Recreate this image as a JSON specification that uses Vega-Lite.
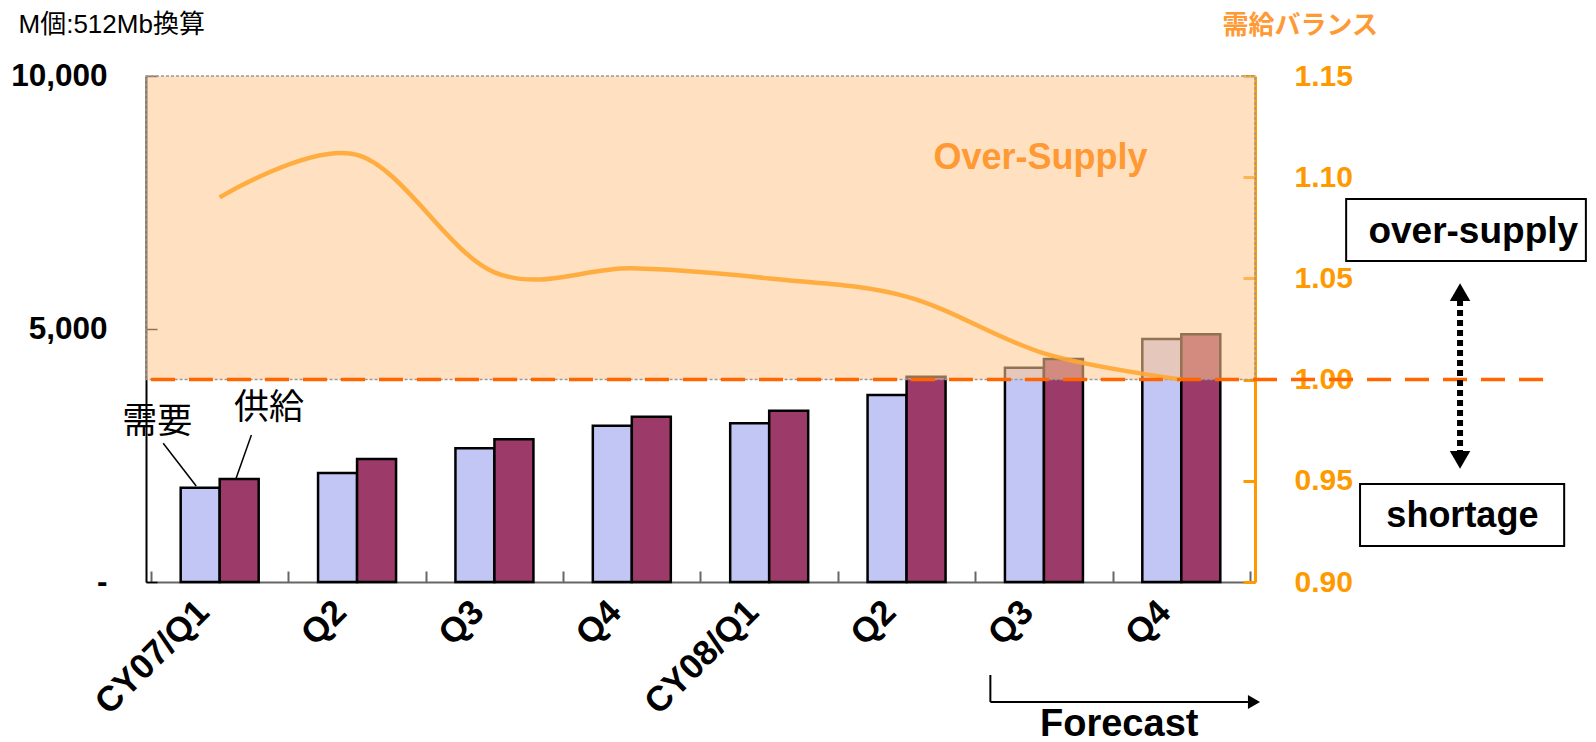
{
  "$schema": "https://vega.github.io/schema/vega-lite/v6.json",
  "width": 1109,
  "height": 506,
  "autosize": {"type": "none"},
  "padding": {"left": 146, "top": 76, "right": 341, "bottom": 160},
  "background": "white",
  "config": {"view": {"stroke": null}, "font": "Liberation Sans"},
  "data": {"values": [{}]},
  "datasets": {
    "bars": [
      {"idx": 1, "quarter": "CY07/Q1", "series": "需要", "value": 1864},
      {"idx": 1, "quarter": "CY07/Q1", "series": "供給", "value": 2035},
      {"idx": 2, "quarter": "CY07/Q2", "series": "需要", "value": 2154},
      {"idx": 2, "quarter": "CY07/Q2", "series": "供給", "value": 2430},
      {"idx": 3, "quarter": "CY07/Q3", "series": "需要", "value": 2642},
      {"idx": 3, "quarter": "CY07/Q3", "series": "供給", "value": 2820},
      {"idx": 4, "quarter": "CY07/Q4", "series": "需要", "value": 3089},
      {"idx": 4, "quarter": "CY07/Q4", "series": "供給", "value": 3267},
      {"idx": 5, "quarter": "CY08/Q1", "series": "需要", "value": 3136},
      {"idx": 5, "quarter": "CY08/Q1", "series": "供給", "value": 3386},
      {"idx": 6, "quarter": "CY08/Q2", "series": "需要", "value": 3696},
      {"idx": 6, "quarter": "CY08/Q2", "series": "供給", "value": 4058},
      {"idx": 7, "quarter": "CY08/Q3", "series": "需要", "value": 4236},
      {"idx": 7, "quarter": "CY08/Q3", "series": "供給", "value": 4407},
      {"idx": 8, "quarter": "CY08/Q4", "series": "需要", "value": 4802},
      {"idx": 8, "quarter": "CY08/Q4", "series": "供給", "value": 4895}
    ],
    "ratio": [
      {"idx": 1, "quarter": "CY07/Q1", "ratio": 1.090},
      {"idx": 2, "quarter": "CY07/Q2", "ratio": 1.111},
      {"idx": 3, "quarter": "CY07/Q3", "ratio": 1.053},
      {"idx": 4, "quarter": "CY07/Q4", "ratio": 1.055},
      {"idx": 5, "quarter": "CY08/Q1", "ratio": 1.050},
      {"idx": 6, "quarter": "CY08/Q2", "ratio": 1.041},
      {"idx": 7, "quarter": "CY08/Q3", "ratio": 1.013},
      {"idx": 8, "quarter": "CY08/Q4", "ratio": 1.000}
    ]
  },
  "layer": [
    {
      "data": {"name": "bars"},
      "mark": {"type": "bar", "stroke": "black", "strokeWidth": 2.5, "width": 39, "xOffset": {"expr": "datum.series === '需要' ? -19.5 : 19.5"}},
      "encoding": {
        "x": {
          "field": "idx", "type": "quantitative",
          "scale": {"domain": [0.5, 8.5], "nice": false, "zero": false},
          "axis": {
            "orient": "bottom", "title": null, "grid": false,
            "values": [0.5, 1, 1.5, 2, 2.5, 3, 3.5, 4, 4.5, 5, 5.5, 6, 6.5, 7, 7.5, 8, 8.5],
            "labelExpr": "datum.value % 1 === 0 ? ['CY07/Q1','Q2','Q3','Q4','CY08/Q1','Q2','Q3','Q4'][datum.value - 1] : ''",
            "labelAngle": -45, "labelAlign": "right", "labelBaseline": "middle",
            "labelFont": "Liberation Sans", "labelFontSize": 35, "labelFontWeight": "bold", "labelColor": "black",
            "labelPadding": 35, "labelOffset": -17, "labelOverlap": false, "labelLimit": 0, "labelFlush": false,
            "tickSize": -11, "tickColor": "#666", "tickWidth": 2,
            "tickOpacity": {"condition": {"test": "datum.value % 1 === 0", "value": 0}, "value": 1},
            "domainColor": "#666", "domainWidth": 2
          }
        },
        "y": {
          "field": "value", "type": "quantitative", "stack": null,
          "scale": {"domain": [0, 10000]},
          "axis": {
            "orient": "left", "values": [0, 5000, 10000], "grid": false,
            "labelExpr": "datum.value == 0 ? '-\u00a0\u00a0\u00a0\u00a0' : format(datum.value, ',')",
            "labelFont": "Liberation Sans", "labelFontSize": 31.5, "labelFontWeight": "bold", "labelColor": "black",
            "labelPadding": 50, "tickSize": -11, "tickColor": "black", "tickWidth": 1.5,
            "domainColor": "black", "domainWidth": 2,
            "title": "M個:512Mb換算", "titleAngle": 0, "titleX": -128, "titleY": -52,
            "titleAlign": "left", "titleBaseline": "middle",
            "titleFont": "Liberation Sans, Noto Sans CJK JP", "titleFontSize": 26, "titleFontWeight": "normal", "titleColor": "black"
          }
        },
        "color": {
          "field": "series", "type": "nominal",
          "scale": {"domain": ["需要", "供給"], "range": ["#c2c6f5", "#9c3a6a"]},
          "legend": null
        }
      }
    },
    {
      "layer": [
        {
          "mark": {"type": "rect", "fill": "#ffc890", "fillOpacity": 0.57, "stroke": "#999", "strokeWidth": 1.5, "strokeDash": [3, 2]},
          "encoding": {
            "y": {"datum": 1.0, "type": "quantitative", "scale": {"domain": [0.9, 1.15], "zero": false}},
            "y2": {"datum": 1.15}
          }
        },
        {
          "data": {"name": "ratio"},
          "mark": {"type": "line", "interpolate": "cardinal", "tension": 0, "stroke": "#ffa733", "strokeWidth": 4.5, "opacity": 0.9},
          "encoding": {
            "x": {"field": "idx", "type": "quantitative", "scale": {"domain": [0.5, 8.5], "nice": false, "zero": false}},
            "y": {
              "field": "ratio", "type": "quantitative",
              "scale": {"domain": [0.9, 1.15], "zero": false},
              "axis": {
                "orient": "right", "values": [0.9, 0.95, 1.0, 1.05, 1.1, 1.15], "format": ".2f", "grid": false,
                "labelFont": "Liberation Sans", "labelFontSize": 30, "labelFontWeight": "bold", "labelColor": "#ff9900",
                "labelPadding": 51, "tickSize": -12, "tickColor": "#ff9900", "tickWidth": 3,
                "domainColor": "#ff9900", "domainWidth": 3,
                "title": "需給バランス", "titleAngle": 0, "titleX": -33, "titleY": -51,
                "titleAlign": "left", "titleBaseline": "middle",
                "titleFont": "Noto Sans CJK JP", "titleFontSize": 26, "titleFontWeight": "bold", "titleColor": "#ff9933"
              }
            }
          }
        },
        {
          "mark": {"type": "rule", "color": "#ff6600", "strokeWidth": 3.5, "strokeDash": [24, 14]},
          "encoding": {
            "x": {"datum": 0.5, "type": "quantitative", "scale": {"domain": [0.5, 8.5], "nice": false, "zero": false}},
            "x2": {"datum": 10.72},
            "y": {"datum": 1.0, "type": "quantitative", "scale": {"domain": [0.9, 1.15], "zero": false}}
          }
        },
        {
          "mark": {"type": "rect", "fill": "white", "stroke": "black", "strokeWidth": 2},
          "encoding": {
            "x": {"datum": 9.200, "type": "quantitative", "scale": {"domain": [0.5, 8.5], "nice": false, "zero": false}},
            "x2": {"datum": 10.945},
            "y": {"datum": 1.0892, "type": "quantitative", "scale": {"domain": [0.9, 1.15], "zero": false}},
            "y2": {"datum": 1.0586}
          }
        },
        {
          "mark": {"type": "rect", "fill": "white", "stroke": "black", "strokeWidth": 2},
          "encoding": {
            "x": {"datum": 9.301, "type": "quantitative", "scale": {"domain": [0.5, 8.5], "nice": false, "zero": false}},
            "x2": {"datum": 10.787},
            "y": {"datum": 0.94842, "type": "quantitative", "scale": {"domain": [0.9, 1.15], "zero": false}},
            "y2": {"datum": 0.91779}
          }
        },
        {
          "mark": {"type": "text", "text": "over-supply", "font": "Liberation Sans", "fontSize": 37, "fontWeight": "bold", "color": "black", "align": "center", "baseline": "alphabetic"},
          "encoding": {
            "x": {"datum": 10.125, "type": "quantitative", "scale": {"domain": [0.5, 8.5], "nice": false, "zero": false}},
            "y": {"datum": 1.06734, "type": "quantitative", "scale": {"domain": [0.9, 1.15], "zero": false}}
          }
        },
        {
          "mark": {"type": "text", "text": "shortage", "font": "Liberation Sans", "fontSize": 36, "fontWeight": "bold", "color": "black", "align": "center", "baseline": "alphabetic"},
          "encoding": {
            "x": {"datum": 10.046, "type": "quantitative", "scale": {"domain": [0.5, 8.5], "nice": false, "zero": false}},
            "y": {"datum": 0.92703, "type": "quantitative", "scale": {"domain": [0.9, 1.15], "zero": false}}
          }
        },
        {
          "mark": {"type": "text", "text": "Over-Supply", "font": "Liberation Sans", "fontSize": 36, "fontWeight": "bold", "color": "#ff9933", "align": "center", "baseline": "alphabetic"},
          "encoding": {
            "x": {"datum": 6.975, "type": "quantitative", "scale": {"domain": [0.5, 8.5], "nice": false, "zero": false}},
            "y": {"datum": 1.10405, "type": "quantitative", "scale": {"domain": [0.9, 1.15], "zero": false}}
          }
        },
        {
          "mark": {"type": "text", "text": "Forecast", "font": "Liberation Sans", "fontSize": 38, "fontWeight": "bold", "color": "black", "align": "center", "baseline": "alphabetic"},
          "encoding": {
            "x": {"datum": 7.548, "type": "quantitative", "scale": {"domain": [0.5, 8.5], "nice": false, "zero": false}},
            "y": {"datum": 0.8237, "type": "quantitative", "scale": {"domain": [0.9, 1.15], "zero": false}}
          }
        },
        {
          "mark": {"type": "text", "text": "需要", "font": "Noto Sans CJK JP", "fontSize": 35, "color": "black", "align": "center", "baseline": "middle"},
          "encoding": {
            "x": {"datum": 0.5455, "type": "quantitative", "scale": {"domain": [0.5, 8.5], "nice": false, "zero": false}},
            "y": {"datum": 0.9792, "type": "quantitative", "scale": {"domain": [0.9, 1.15], "zero": false}}
          }
        },
        {
          "mark": {"type": "text", "text": "供給", "font": "Noto Sans CJK JP", "fontSize": 35, "color": "black", "align": "center", "baseline": "middle"},
          "encoding": {
            "x": {"datum": 1.3584, "type": "quantitative", "scale": {"domain": [0.5, 8.5], "nice": false, "zero": false}},
            "y": {"datum": 0.98597, "type": "quantitative", "scale": {"domain": [0.9, 1.15], "zero": false}}
          }
        },
        {
          "mark": {"type": "rule", "color": "black", "strokeWidth": 1.5},
          "encoding": {
            "x": {"datum": 0.5887, "type": "quantitative", "scale": {"domain": [0.5, 8.5], "nice": false, "zero": false}},
            "x2": {"datum": 0.8290},
            "y": {"datum": 0.96853, "type": "quantitative", "scale": {"domain": [0.9, 1.15], "zero": false}},
            "y2": {"datum": 0.94743}
          }
        },
        {
          "mark": {"type": "rule", "color": "black", "strokeWidth": 1.5},
          "encoding": {
            "x": {"datum": 1.2308, "type": "quantitative", "scale": {"domain": [0.5, 8.5], "nice": false, "zero": false}},
            "x2": {"datum": 1.1175},
            "y": {"datum": 0.97263, "type": "quantitative", "scale": {"domain": [0.9, 1.15], "zero": false}},
            "y2": {"datum": 0.95089}
          }
        },
        {
          "mark": {"type": "rule", "color": "black", "strokeWidth": 6, "strokeDash": [6, 4]},
          "encoding": {
            "x": {"datum": 10.029, "type": "quantitative", "scale": {"domain": [0.5, 8.5], "nice": false, "zero": false}},
            "y": {"datum": 1.0393, "type": "quantitative", "scale": {"domain": [0.9, 1.15], "zero": false}},
            "y2": {"datum": 0.9642}
          }
        },
        {
          "mark": {"type": "point", "shape": "triangle-up", "filled": true, "color": "black", "size": 420, "opacity": 1},
          "encoding": {
            "x": {"datum": 10.029, "type": "quantitative", "scale": {"domain": [0.5, 8.5], "nice": false, "zero": false}},
            "y": {"datum": 1.04328, "type": "quantitative", "scale": {"domain": [0.9, 1.15], "zero": false}}
          }
        },
        {
          "mark": {"type": "point", "shape": "triangle-down", "filled": true, "color": "black", "size": 420, "opacity": 1},
          "encoding": {
            "x": {"datum": 10.029, "type": "quantitative", "scale": {"domain": [0.5, 8.5], "nice": false, "zero": false}},
            "y": {"datum": 0.96028, "type": "quantitative", "scale": {"domain": [0.9, 1.15], "zero": false}}
          }
        },
        {
          "mark": {"type": "rule", "color": "black", "strokeWidth": 2},
          "encoding": {
            "x": {"datum": 6.610, "type": "quantitative", "scale": {"domain": [0.5, 8.5], "nice": false, "zero": false}},
            "y": {"datum": 0.85405, "type": "quantitative", "scale": {"domain": [0.9, 1.15], "zero": false}},
            "y2": {"datum": 0.84071}
          }
        },
        {
          "mark": {"type": "rule", "color": "black", "strokeWidth": 2},
          "encoding": {
            "x": {"datum": 6.610, "type": "quantitative", "scale": {"domain": [0.5, 8.5], "nice": false, "zero": false}},
            "x2": {"datum": 8.485},
            "y": {"datum": 0.84071, "type": "quantitative", "scale": {"domain": [0.9, 1.15], "zero": false}}
          }
        },
        {
          "mark": {"type": "point", "shape": "triangle-right", "filled": true, "color": "black", "size": 196, "opacity": 1},
          "encoding": {
            "x": {"datum": 8.529, "type": "quantitative", "scale": {"domain": [0.5, 8.5], "nice": false, "zero": false}},
            "y": {"datum": 0.84071, "type": "quantitative", "scale": {"domain": [0.9, 1.15], "zero": false}}
          }
        }
      ]
    }
  ],
  "resolve": {"scale": {"y": "independent"}}
}
